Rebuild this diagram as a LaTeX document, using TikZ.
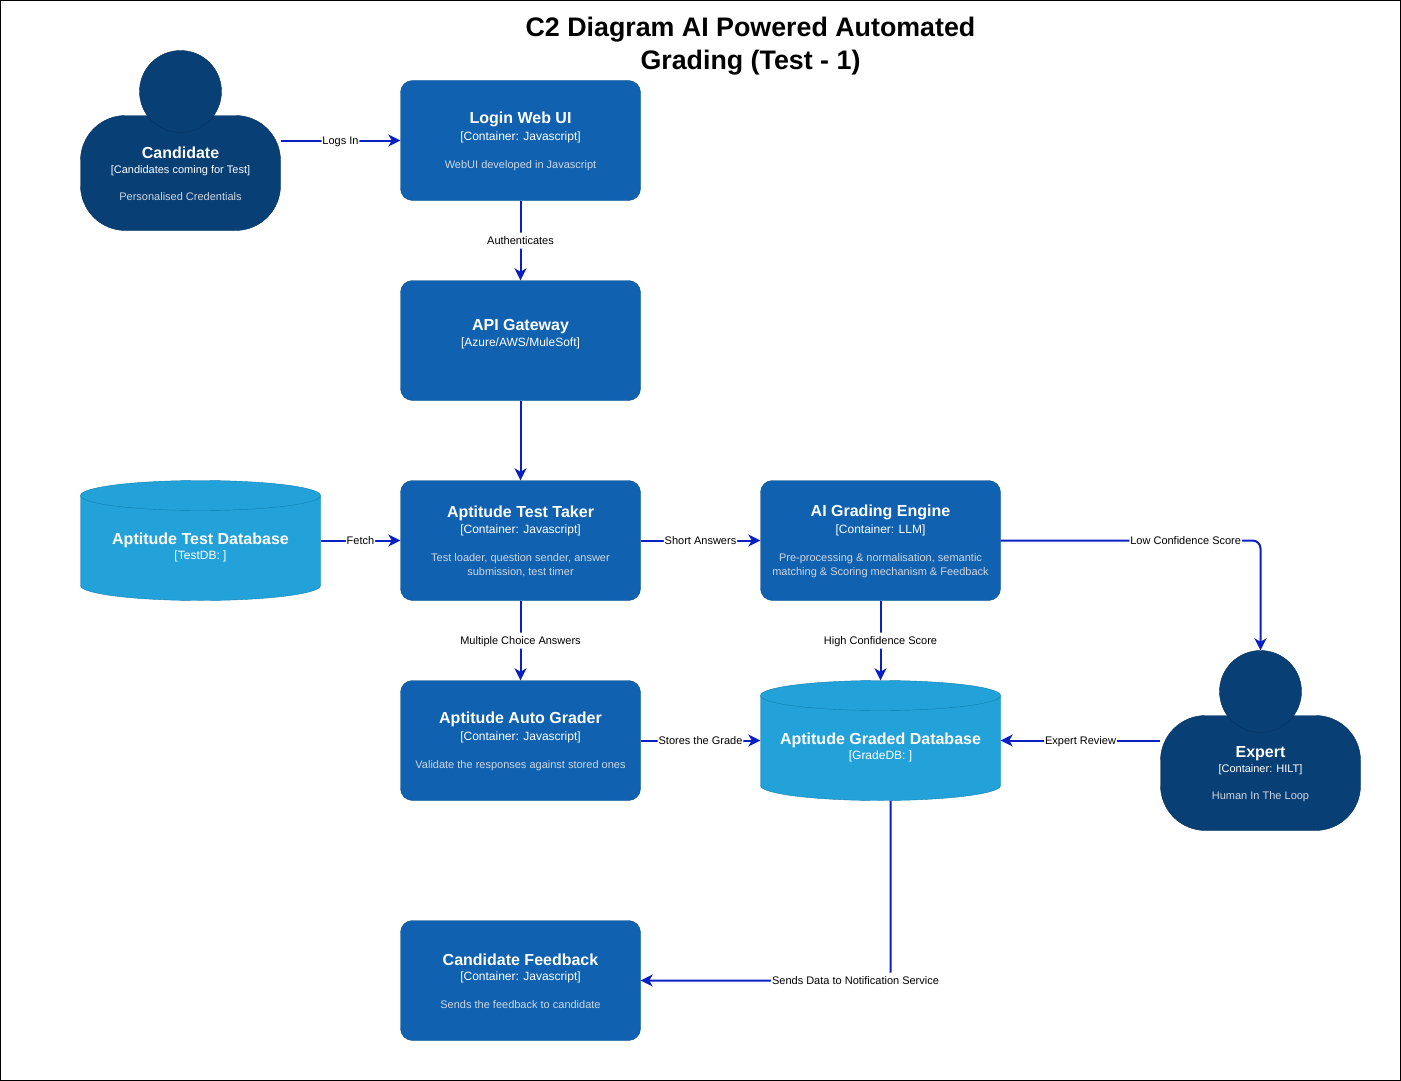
\documentclass[tikz,border=0pt]{standalone}
\usepackage{fontspec}
\setmainfont{Liberation Sans}
\usetikzlibrary{arrows.meta,calc,shapes.geometric}
\definecolor{containerblue}{HTML}{1061B0}
\definecolor{containerline}{HTML}{0D5091}
\definecolor{personblue}{HTML}{083F75}
\definecolor{personline}{HTML}{06315C}
\definecolor{dbblue}{HTML}{23A2D9}
\definecolor{dbline}{HTML}{0E7DAD}
\definecolor{flowblue}{HTML}{0A1FC4}
\definecolor{desctext}{HTML}{CFD6E0}
\tikzstyle{containerbox}=[rectangle,draw=containerline,fill=containerblue,rounded corners=12pt,minimum width=240pt,minimum height=120pt,text=white,align=center,inner sep=0pt]
\tikzstyle{personbody}=[rectangle,draw=personline,fill=personblue,rounded corners=45pt,minimum width=200pt,minimum height=115pt,text=white,align=center,inner sep=0pt]
\tikzstyle{personhead}=[ellipse,draw=personline,fill=personblue,minimum width=82pt,minimum height=82pt,inner sep=0pt]
\tikzstyle{dbtextbox}=[rectangle,minimum width=240pt,minimum height=120pt,text=white,align=center,inner sep=0pt]
\tikzstyle{flow}=[draw=flowblue,line width=2pt,-{Stealth[length=12pt,width=12pt,inset=3.5pt]},rounded corners=8pt]
\tikzstyle{flowlabel}=[fill=white,text=black,font=\fontsize{11}{13}\selectfont,inner sep=1pt,text height=11pt,text depth=3pt]
\newcommand{\nametext}[1]{{\fontsize{16}{18}\selectfont\bfseries #1}}
\newcommand{\techtext}[1]{{\fontsize{12}{14}\selectfont #1}}
\newcommand{\persontech}[1]{{\fontsize{11}{14}\selectfont #1}}
\newcommand{\desctext}[1]{{\fontsize{11}{14}\selectfont\color{desctext} #1}}
\newcommand{\boxtext}[3]{\rule{0pt}{13pt}\nametext{#1}\\[3.5pt]\techtext{#2}\\[16pt]\desctext{#3}}
\newcommand{\persontext}[3]{\rule{0pt}{14pt}\nametext{#1}\\[3pt]\persontech{#2}\\[15pt]\desctext{#3}}
\newcommand{\drawcylinder}[2]{ % center of the drum
\draw[dbline,fill=dbblue] (#1-120,#2-45) arc[start angle=180,end angle=0,x radius=120pt,y radius=15pt] -- (#1+120,#2+45) arc[start angle=0,end angle=-180,x radius=120pt,y radius=15pt] -- cycle;
\draw[dbline] (#1-120,#2-45) arc[start angle=180,end angle=360,x radius=120pt,y radius=15pt];
}
\begin{document}
\begin{tikzpicture}[x=1pt,y=-1pt]
\useasboundingbox (0,0) rectangle (1401,1081);
\draw[black,line width=1pt] (0.5,0.5) rectangle (1400.5,1080.5);
\begin{scope}[shift={(0.5,0.5)}]
\node[align=center,font=\fontsize{26.8}{33}\selectfont\bfseries] (title) at (750,46) {C2 Diagram AI Powered Automated\\Grading (Test - 1)};

% people
\node[personbody] (candidate) at (180,172.5) {\persontext{Candidate}{[Candidates coming for Test]}{Personalised Credentials}};
\node[personhead] (candidatehead) at (180,91) {};
\node[personbody] (expert) at (1260,772.5) {\persontext{Expert}{[Container: HILT]}{Human In The Loop}};
\node[personhead] (experthead) at (1260,691) {};

% containers
\node[containerbox] (login) at (520,140) {\boxtext{Login Web UI}{[Container: Javascript]}{WebUI developed in Javascript}};
\node[containerbox] (gateway) at (520,340) {\nametext{API Gateway}\\[3.5pt]\techtext{[Azure/AWS/MuleSoft]}\\[3pt]};
\node[containerbox] (taker) at (520,540) {\boxtext{Aptitude Test Taker}{[Container: Javascript]}{Test loader, question sender, answer}\\[2pt]\desctext{submission, test timer}};
\node[containerbox] (engine) at (880,540) {\boxtext{AI Grading Engine}{[Container: LLM]}{Pre-processing \& normalisation, semantic}\\[2pt]\desctext{matching \& Scoring mechanism \& Feedback}};
\node[containerbox] (autograder) at (520,740) {\boxtext{Aptitude Auto Grader}{[Container: Javascript]}{Validate the responses against stored ones}};
\node[containerbox] (feedback) at (520,980) {\boxtext{Candidate Feedback}{[Container: Javascript]}{Sends the feedback to candidate}};

% databases
\drawcylinder{200}{540}
\node[dbtextbox] (testdb) at (200,540) {\rule{0pt}{12pt}\\[1.5pt]\nametext{Aptitude Test Database}\\[2.5pt]\techtext{[TestDB: ]}};
\drawcylinder{880}{740}
\node[dbtextbox] (gradedb) at (880,740) {\rule{0pt}{12pt}\\[1.5pt]\nametext{Aptitude Graded Database}\\[2.5pt]\techtext{[GradeDB: ]}};
\coordinate (gradeout) at ($(gradedb.south)+(10,0)$);

% connectors
\draw[flow] (candidate.east |- login.west) -- node[flowlabel] (logslabel) {Logs In} (login.west);
\draw[flow] (login) -- node[flowlabel] (authlabel) {Authenticates} (gateway);
\draw[flow] (gateway) -- (taker);
\draw[flow] (testdb) -- node[flowlabel] (fetchlabel) {Fetch} (taker);
\draw[flow] (taker) -- node[flowlabel] (shortlabel) {Short Answers} (engine);
\draw[flow] (taker) -- node[flowlabel] (multilabel) {Multiple Choice Answers} (autograder);
\draw[flow] (engine) -- node[flowlabel] (highlabel) {High Confidence Score} (gradedb);
\draw[flow] (engine.east) -| node[flowlabel,pos=0.356] (lowlabel) {Low Confidence Score} (experthead.north);
\draw[flow] (autograder) -- node[flowlabel] (storeslabel) {Stores the Grade} (gradedb);
\draw[flow] (expert.west |- gradedb.east) -- node[flowlabel] (reviewlabel) {Expert Review} (gradedb.east);
\draw[flow] (gradeout) |- node[flowlabel,pos=0.57] (sendslabel) {Sends Data to Notification Service} (feedback.east);
\end{scope}
\end{tikzpicture}
\end{document}
